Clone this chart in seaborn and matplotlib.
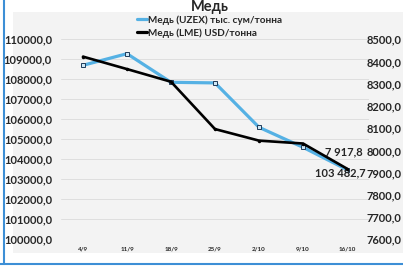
import pandas as pd
import matplotlib
matplotlib.use("Agg")
import matplotlib.pyplot as plt
from matplotlib.lines import Line2D
from matplotlib.patches import Rectangle
import seaborn as sns

# Data
dates = ["4/9", "11/9", "18/9", "25/9", "2/10", "9/10", "16/10"]
uzex = [108700, 109280, 107850, 107820, 105600, 104600, 103482.7]
lme = [8422, 8366, 8309, 8096, 8044, 8031, 7917.8]
left_ticks = list(range(100000, 110001, 1000))
right_ticks = list(range(7600, 8501, 100))

df = pd.DataFrame({"x": range(len(dates)), "uzex": uzex, "lme": lme})

sns.set_theme(style="white")
plt.rcParams["font.family"] = ["Lato", "DejaVu Sans"]
plt.rcParams["font.weight"] = "bold"

blue = "#55b1e4"
txt = "#262626"

fig = plt.figure(figsize=(4.03, 2.71), dpi=100, facecolor="white")

# chart area background and blue frame lines
fig.patches.append(Rectangle((13 / 403, (271 - 253) / 271), 390 / 403, 241 / 271,
                             transform=fig.transFigure, facecolor="#f3f3f3",
                             edgecolor="none", zorder=-10))
fig.add_artist(Line2D([3.5 / 403, 3.5 / 403], [(271 - 264) / 271, 1],
                      transform=fig.transFigure, color="#3d8fd6", lw=1.5))
fig.add_artist(Line2D([0, 1], [(271 - 264) / 271, (271 - 264) / 271],
                      transform=fig.transFigure, color="#3d8fd6", lw=1.5))

ax = fig.add_axes([61 / 403, (271 - 239.3) / 271, 308 / 403, 200 / 271])
ax.set_facecolor("none")
ax2 = ax.twinx()

sns.lineplot(data=df, x="x", y="uzex", ax=ax, color=blue, linewidth=2.3,
             marker="s", markersize=3.2, markerfacecolor="#cfe8f6",
             markeredgecolor="#1f3b5a", markeredgewidth=0.7, legend=False, zorder=3)
sns.lineplot(data=df, x="x", y="lme", ax=ax2, color="black", linewidth=1.9,
             marker="o", markersize=2.5, markeredgewidth=0, legend=False, zorder=4)

ax.set_xlim(-0.5, len(dates) - 0.5)
ax.set_ylim(100000, 110000)
ax2.set_ylim(7600, 8500)

ax.set_xticks(range(len(dates)))
ax.set_xticklabels(dates, fontsize=4.5, color=txt, fontweight="bold")
ax.set_yticks(left_ticks)
ax.set_yticklabels([f"{v},0" for v in left_ticks], fontsize=8, color=txt, fontweight="bold")
ax2.set_yticks(right_ticks)
ax2.set_yticklabels([f"{v},0" for v in right_ticks], fontsize=8, color=txt, fontweight="bold")
ax.tick_params(axis="y", length=0, pad=6.5)
ax.tick_params(axis="x", length=0, pad=5)
ax2.tick_params(axis="y", length=0, pad=-2)

ax.grid(axis="y", color="#dedede", linewidth=0.7)
ax.set_axisbelow(True)
for a in (ax, ax2):
    for s in a.spines.values():
        s.set_visible(False)
ax.set_xlabel("")
ax.set_ylabel("")
ax2.set_ylabel("")

# data labels for the last point
ax2.annotate("7 917,8", (6, lme[-1]), xytext=(-2, 12), textcoords="offset points",
             ha="center", va="center", fontsize=8, fontweight="bold", color=txt)
ax.annotate("103 482,7", (6, uzex[-1]), xytext=(-5, -2), textcoords="offset points",
            ha="center", va="center", fontsize=8, fontweight="bold", color=txt)

fig.text(0.52, 1 - 10.5 / 271, "Медь", ha="center", va="baseline", fontsize=10.5,
         fontweight="bold", color=txt)

handles = [Line2D([], [], color=blue, lw=2.3), Line2D([], [], color="black", lw=2.3)]
labels = ["Медь (UZEX) тыс. сум/тонна", "Медь (LME) USD/тонна"]
fig.legend(handles, labels, loc="upper center", bbox_to_anchor=(0.52, 1 - 10 / 271),
           frameon=False, handlelength=1.0, handletextpad=0.1,
           labelspacing=0.35, borderpad=0, prop={"weight": "bold", "size": 7.2})

fig.savefig("out.png", dpi=100, facecolor="white")
